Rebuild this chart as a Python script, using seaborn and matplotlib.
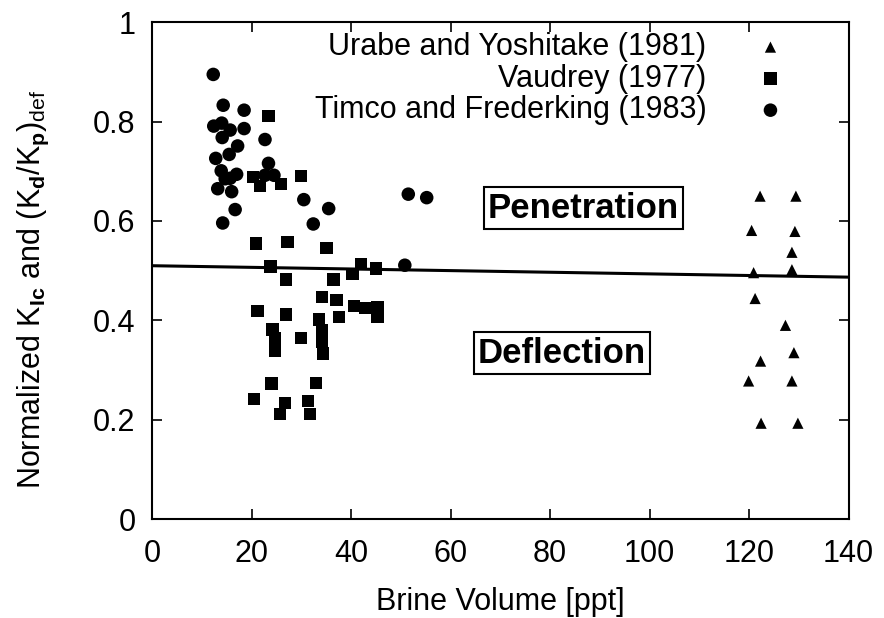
import numpy as np
import pandas as pd
import matplotlib
matplotlib.use("Agg")
import matplotlib.pyplot as plt
import seaborn as sns

# Timco and Frederking (1983)
timco_x = [12.3, 14.3, 18.5, 12.4, 14.0, 15.7, 18.5, 14.1, 17.2, 22.7, 15.5, 12.8, 23.4,
           13.9, 17.0, 15.7, 22.7, 24.5, 14.7, 13.2, 16.0, 30.5, 35.5, 16.7, 14.2, 32.4,
           51.5, 55.2, 50.8]
timco_y = [0.895, 0.833, 0.823, 0.791, 0.797, 0.783, 0.786, 0.768, 0.751, 0.764, 0.734, 0.726, 0.716,
           0.701, 0.694, 0.686, 0.692, 0.692, 0.685, 0.665, 0.659, 0.643, 0.625, 0.623, 0.596, 0.594,
           0.654, 0.647, 0.511]

# Vaudrey (1977)
vaudrey_x = [23.4, 20.3, 21.7, 25.9, 29.9, 20.9, 27.2, 35.1, 23.8, 42.0, 45.0, 40.3, 26.9,
             36.5, 34.1, 37.1, 40.6, 42.8, 45.3, 45.3, 21.2, 26.9, 33.5, 37.6, 24.2, 24.7,
             29.9, 34.1, 34.1, 34.3, 24.7, 24.0, 32.9, 20.5, 26.7, 31.3, 25.7, 31.7]
vaudrey_y = [0.811, 0.689, 0.670, 0.674, 0.691, 0.555, 0.558, 0.546, 0.508, 0.513, 0.504, 0.493, 0.482,
             0.482, 0.447, 0.441, 0.429, 0.425, 0.427, 0.407, 0.419, 0.412, 0.402, 0.407, 0.382, 0.364,
             0.365, 0.380, 0.357, 0.333, 0.339, 0.273, 0.274, 0.242, 0.234, 0.238, 0.211, 0.211]

# Urabe and Yoshitake (1981)
urabe_x = [122.2, 129.4, 120.5, 129.2, 128.6, 128.6, 120.9, 121.2, 127.3, 129.0, 122.3,
           119.9, 128.6, 122.4, 129.8]
urabe_y = [0.650, 0.650, 0.581, 0.579, 0.537, 0.502, 0.496, 0.444, 0.390, 0.335, 0.318,
           0.278, 0.278, 0.193, 0.193]

# boundary line
line_x = [0, 140]
line_y = [0.510, 0.487]

sns.set_style("ticks")
plt.rcParams["font.family"] = ["Liberation Sans", "DejaVu Sans"]
plt.rcParams["mathtext.fontset"] = "custom"
plt.rcParams["mathtext.rm"] = "Liberation Sans"
plt.rcParams["mathtext.bf"] = "Liberation Sans:bold"
plt.rcParams["mathtext.it"] = "Liberation Sans"
for k in ["text.color", "axes.labelcolor", "xtick.color", "ytick.color", "axes.edgecolor"]:
    plt.rcParams[k] = "black"

FS = 22

fig = plt.figure(figsize=(8.84, 6.18), dpi=100)
ax = fig.add_axes([0.172, 0.160, 0.788, 0.804])

urabe = pd.DataFrame({"x": urabe_x, "y": urabe_y})
vaudrey = pd.DataFrame({"x": vaudrey_x, "y": vaudrey_y})
timco = pd.DataFrame({"x": timco_x, "y": timco_y})

sns.scatterplot(data=urabe, x="x", y="y", marker="^", s=65, color="black",
                edgecolor="none", label="Urabe and Yoshitake (1981)", ax=ax, zorder=3)
sns.scatterplot(data=vaudrey, x="x", y="y", marker="s", s=80, color="black",
                edgecolor="none", label="Vaudrey (1977)", ax=ax, zorder=3)
sns.scatterplot(data=timco, x="x", y="y", marker="o", s=95, color="black",
                edgecolor="none", label="Timco and Frederking (1983)", ax=ax, zorder=3)
sns.lineplot(x=line_x, y=line_y, color="black", linewidth=2.2, ax=ax, zorder=2)

ax.set_xlim(0, 140)
ax.set_ylim(0, 1)
ax.set_xticks(np.arange(0, 141, 20))
ax.set_yticks([0, 0.2, 0.4, 0.6, 0.8, 1])
ax.set_yticklabels(["0", "0.2", "0.4", "0.6", "0.8", "1"])
ax.tick_params(direction="in", top=True, right=True, length=7, width=1.2, labelsize=FS)
ax.tick_params(axis="x", pad=14)
ax.tick_params(axis="y", pad=12)
for sp in ax.spines.values():
    sp.set_linewidth(1.5)

ax.set_xlabel("Brine Volume [ppt]", fontsize=FS, labelpad=13)
ax.set_ylabel(r"Normalized K$_{\mathbf{Ic}}$ and (K$_{\mathbf{d}}$/K$_{\mathbf{p}}$)$_{\mathrm{def}}$",
              fontsize=FS)
ax.yaxis.set_label_coords(-0.145, 0.463)

box = dict(boxstyle="square,pad=0.12", facecolor="white", edgecolor="black", linewidth=1.5)
ax.text(86.7, 0.626, "Penetration", fontsize=25, fontweight="bold", ha="center", va="center",
        bbox=box, zorder=4)
ax.text(82.4, 0.334, "Deflection", fontsize=25, fontweight="bold", ha="center", va="center",
        bbox=box, zorder=4)

ax.legend(loc="upper right", bbox_to_anchor=(0.936, 1.017), frameon=False, markerfirst=False,
          fontsize=FS, labelspacing=0.05, handletextpad=1.6, borderpad=0.1, handlelength=1.0,
          markerscale=1.0)

fig.savefig("out.png", dpi=100)
